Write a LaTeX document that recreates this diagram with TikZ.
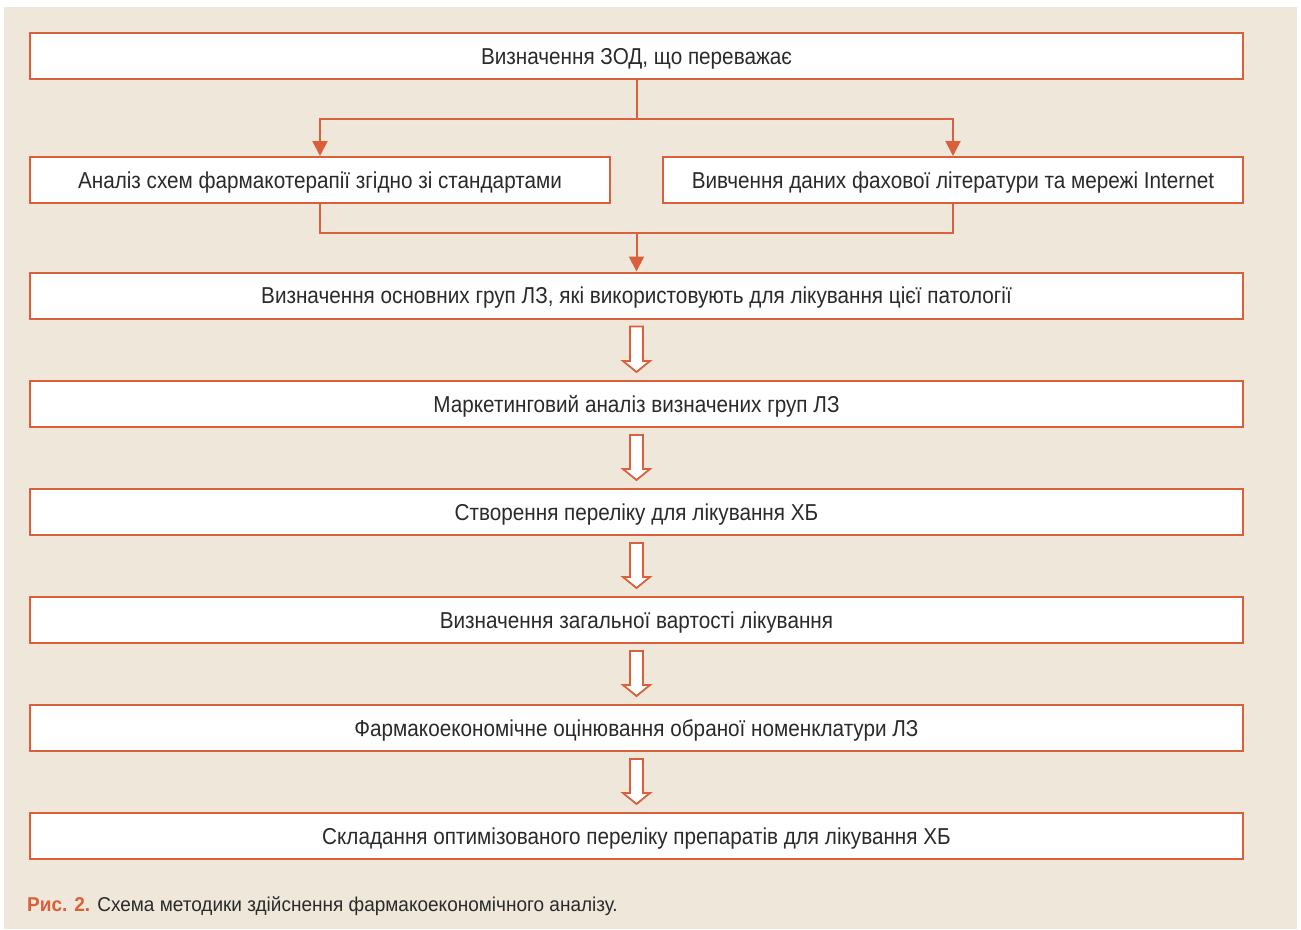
\documentclass[tikz,border=0pt]{standalone}
\usepackage{fontspec}
\setmainfont{Liberation Sans}[FakeStretch=0.90]
\newfontfamily\capfont{Liberation Sans}[FakeStretch=0.95]
\usetikzlibrary{calc,arrows.meta}
\definecolor{frame}{HTML}{D9603B}
\definecolor{beige}{HTML}{EEE7DA}
\definecolor{ink}{HTML}{2A2A2A}
\tikzset{
  box/.style={draw=frame, line width=2pt, fill=white, minimum height=46, inner sep=0pt, text depth=0pt, text=ink, font=\fontsize{23}{26}\selectfont},
  wide/.style={box, minimum width=1213},
  half/.style={box, minimum width=580},
  link/.style={draw=frame, line width=2pt},
  linkarrow/.style={link, -{Triangle[length=15pt,width=15pt]}},
  hollowarrow/.style={draw=frame, line width=1.8pt, fill=white, line join=miter},
}
\newcommand\harrow[2]{%
  \draw[hollowarrow] ($(#1.south)+(-6.5,7)$) -- ($(#2.north)+(-6.5,-19)$) -- ($(#2.north)+(-13.5,-19)$)
    -- ($(#2.north)+(0,-8)$) -- ($(#2.north)+(13.5,-19)$) -- ($(#2.north)+(6.5,-19)$)
    -- ($(#1.south)+(6.5,7)$) -- cycle;}
\begin{document}
\begin{tikzpicture}[x=1pt,y=-1pt]
\useasboundingbox (0,0) rectangle (1301,929);
\fill[white] (0,0) rectangle (1301,929);
\fill[beige] (4,7) rectangle (1297,929);
\node[wide] (b1) at (636.5,56) {Визначення ЗОД, що переважає};
\node[half] (b2l) at (320,180) {Аналіз схем фармакотерапії згідно зі стандартами};
\node[half] (b2r) at (953,180) {Вивчення даних фахової літератури та мережі Internet};
\node[wide] (b3) at (636.5,295.5) {Визначення основних груп ЛЗ, які використовують для лікування цієї патології};
\node[wide] (b4) at (636.5,404) {Маркетинговий аналіз визначених груп ЛЗ};
\node[wide] (b5) at (636.5,512) {Створення переліку для лікування ХБ};
\node[wide] (b6) at (636.5,620) {Визначення загальної вартості лікування};
\node[wide] (b7) at (636.5,728) {Фармакоекономічне оцінювання обраної номенклатури ЛЗ};
\node[wide] (b8) at (636.5,836) {Складання оптимізованого переліку препаратів для лікування ХБ};
\coordinate (j1) at ($(b1.south)+(0,39)$);
\coordinate (j2) at (636.5,233);
\draw[link] (b1.south) -- (j1);
\draw[linkarrow] (j1) -| (b2l.north);
\draw[linkarrow] (j1) -| (b2r.north);
\draw[link] (b2l.south) |- (j2) -| (b2r.south);
\draw[linkarrow] (j2) -- (b3.north);
\harrow{b3}{b4}
\harrow{b4}{b5}
\harrow{b5}{b6}
\harrow{b6}{b7}
\harrow{b7}{b8}
\node[anchor=west, inner sep=0pt, font=\capfont\fontsize{20}{23}\selectfont, text=ink] (cap) at (27,906)
  {\textcolor{frame}{\bfseries Рис. 2.} Схема методики здійснення фармакоекономічного аналізу.};
\end{tikzpicture}
\end{document}
